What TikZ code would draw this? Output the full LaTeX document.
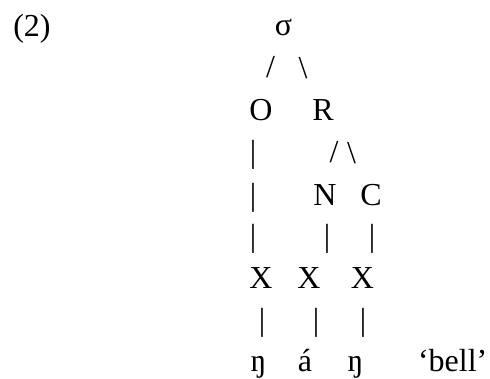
\documentclass[tikz,border=0pt]{standalone}
\usepackage{fontspec}
\setmainfont{Liberation Serif}
\begin{document}
\begin{tikzpicture}[x=1pt,y=1pt,
  glyph/.style={inner sep=0pt, outer sep=0pt, anchor=base, font=\fontsize{32}{38}\selectfont},
  gloss/.style={glyph, anchor=base west}]
\useasboundingbox (0,0) rectangle (490,-378);
% line 0
\node[glyph] (num) at (32,-36) {(2)};
\node[glyph] (sigma) at (283.5,-35) {σ};
% line 1
\node[glyph] (sl1) at (270.5,-77) {/};
\node[glyph] (bs1) at (303,-78) {\textbackslash};
% line 2
\node[glyph] (O) at (261,-120) {O};
\node[glyph] (R) at (323,-120) {R};
% line 3
\node[glyph] (b31) at (253,-162) {|};
\node[glyph] (sl2) at (334,-162) {/};
\node[glyph] (bs2) at (351.5,-163) {\textbackslash};
% line 4
\node[glyph] (b41) at (253,-205) {|};
\node[glyph] (N) at (325,-205) {N};
\node[glyph] (C) at (371,-205) {C};
% line 5
\node[glyph] (b51) at (253,-246) {|};
\node[glyph] (b52) at (327,-246) {|};
\node[glyph] (b53) at (372,-246) {|};
% line 6
\node[glyph] (X1) at (261,-288) {X};
\node[glyph] (X2) at (309,-288) {X};
\node[glyph] (X3) at (362.5,-288) {X};
% line 7
\node[glyph] (b71) at (262,-330) {|};
\node[glyph] (b72) at (316,-330) {|};
\node[glyph] (b73) at (363,-330) {|};
% line 8
\node[glyph] (s1) at (258.5,-371) {ŋ};
\node[glyph] (s2) at (305,-371) {á};
\node[glyph] (s3) at (355.5,-371) {ŋ};
\node[gloss] (bell) at (418,-371) {‘bell’};
\end{tikzpicture}
\end{document}
